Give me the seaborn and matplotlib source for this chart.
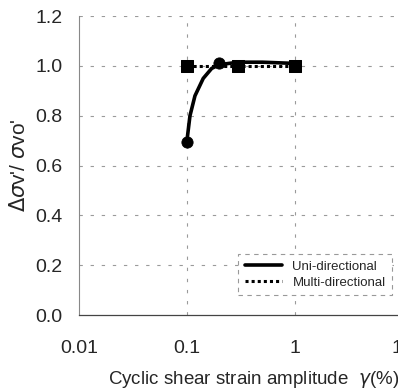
# Normalised vertical stress vs cyclic shear strain amplitude

import numpy as np
import seaborn as sns
import matplotlib.pyplot as plt
from matplotlib.lines import Line2D
from matplotlib.ticker import LogLocator, FixedLocator, NullFormatter

sns.set_style('white')
plt.rcParams['font.family'] = ['Liberation Sans', 'DejaVu Sans']

uni_x = [0.1, 0.2, 0.3, 1.0]
uni_y = [0.695, 1.01, 1.0, 1.0]
uni_curve_x = [0.1, 0.107, 0.119, 0.142, 0.17, 0.2, 0.3, 0.5, 1.0]
uni_curve_y = [0.695, 0.80, 0.88, 0.95, 0.99, 1.005, 1.015, 1.015, 1.01]

# Multi-directional
multi_x = [0.1, 0.3, 1.0]
multi_y = [1.0, 1.0, 1.0]

y_ticks = [0.0, 0.2, 0.4, 0.6, 0.8, 1.0, 1.2]
x_ticks = [0.01, 0.1, 1, 10]
x_labels = ['0.01', '0.1', '1', '10']

fig = plt.figure(figsize=(3.98, 3.92), dpi=100)
ax = fig.add_axes([0.198, 0.196, 0.814, 0.763])

# grid: dashed grey lines
for yv in y_ticks[1:]:
    ax.axhline(yv, color='#9a9a9a', lw=0.8, ls=(0, (3, 7)), zorder=0)
for xv in x_ticks[1:3]:
    ax.axvline(xv, color='#9a9a9a', lw=0.8, ls=(0, (3, 7)), zorder=0)

sns.lineplot(x=multi_x, y=multi_y, ax=ax, color='black', lw=2.2,
             linestyle=(0, (1, 1)), sort=False, zorder=2)
sns.lineplot(x=uni_curve_x, y=uni_curve_y, ax=ax, color='black', lw=2.6,
             sort=False, zorder=3)
sns.scatterplot(x=uni_x, y=uni_y, ax=ax, color='black', marker='o', s=65,
                edgecolor='black', zorder=4)
sns.scatterplot(x=multi_x, y=multi_y, ax=ax, color='black', marker='s', s=85,
                edgecolor='black', zorder=5)

ax.set_xscale('log')
ax.set_xlim(0.01, 10)
ax.set_ylim(0.0, 1.2)
ax.xaxis.set_major_locator(FixedLocator(x_ticks))
ax.set_xticklabels(x_labels)
ax.xaxis.set_minor_locator(LogLocator(base=10, subs=np.arange(2, 10)))
ax.xaxis.set_minor_formatter(NullFormatter())
ax.set_yticks(y_ticks)
ax.set_yticklabels(['%.1f' % v for v in y_ticks])

ax.tick_params(axis='x', which='major', direction='in', length=6, width=0.8,
               color='#555555', pad=18, labelsize=14)
ax.tick_params(axis='x', which='minor', direction='in', length=4, width=0.6,
               color='#777777')
ax.tick_params(axis='y', length=0, pad=12, labelsize=14)

for side in ['top', 'right']:
    ax.spines[side].set_visible(False)
ax.spines['left'].set_color('#888888')
ax.spines['left'].set_linewidth(0.8)
ax.spines['bottom'].set_color('#444444')
ax.spines['bottom'].set_linewidth(0.9)

ax.set_xlabel(r"Cyclic shear strain amplitude  $\gamma$(%)", fontsize=13.5)
ax.xaxis.set_label_coords(0.54, -0.18)
ax.set_ylabel(r"$\Delta\sigma$v'/ $\sigma$vo'", fontsize=15, labelpad=4)

handles = [Line2D([], [], color='black', lw=2.6),
           Line2D([], [], color='black', lw=2.2, linestyle=(0, (1, 1)))]
leg = ax.legend(handles, ['Uni-directional', 'Multi-directional'],
                loc='lower left', bbox_to_anchor=(0.472, 0.045), fontsize=9.5,
                handlelength=2.8, handletextpad=0.8, borderpad=0.5,
                labelspacing=0.25, fancybox=False, framealpha=1)
leg.get_frame().set_edgecolor('#999999')
leg.get_frame().set_linestyle((0, (4, 4)))
leg.get_frame().set_linewidth(0.8)

fig.savefig('out.png', dpi=100)
